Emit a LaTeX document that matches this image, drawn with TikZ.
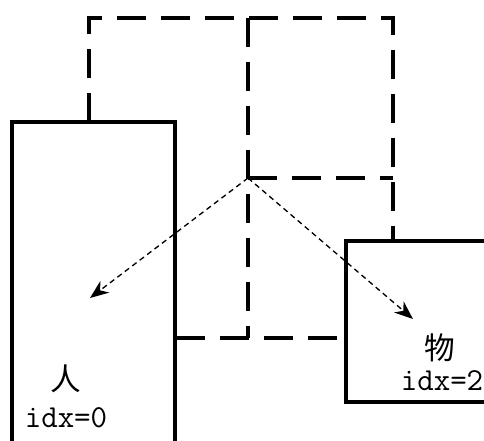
\documentclass[tikz,border=0pt]{standalone}
\usepackage{fontspec}
\newfontfamily\cjk{Noto Sans CJK SC}
\usetikzlibrary{arrows.meta}
\begin{document}
\begin{tikzpicture}[x=0.75pt,y=-0.75pt,
  solidbox/.style={line width=2.5pt},
  dashline/.style={line width=2.5pt,dash pattern=on 22pt off 11pt},
  dotarrow/.style={line width=1pt,dash pattern=on 4pt off 3pt,-{Stealth[length=14pt,width=11pt]}},
  lbl/.style={font=\ttfamily\fontsize{24}{24}\selectfont,inner sep=0pt},
  cjklbl/.style={font=\cjk\fontsize{23}{23}\selectfont,inner sep=0pt}]
\useasboundingbox (0,0) rectangle (484,440);
\begin{scope}
\clip (0,0) rectangle (484,440);
\coordinate (TL) at (89,18);
\coordinate (TM) at (248,18);
\coordinate (TR) at (393,18);
\coordinate (LB) at (89,122);
\coordinate (C) at (248,178);
\coordinate (CR) at (393,178);
\coordinate (RB) at (393,241);
\coordinate (MB) at (248,338);
\coordinate (BL) at (176,338);
\coordinate (BR) at (346,338);
\draw[solidbox] (12,460) -- (12,122) -- (175,122) -- (175,460);
\draw[solidbox] (500,241) -- (346,241) -- (346,402) -- (500,402);
\draw[dashline] (LB) -- (TL) -- (TR) -- (RB);
\draw[dashline] (TM) -- (MB);
\draw[dashline] (C) -- (CR);
\draw[dashline] (BL) -- (BR);
\end{scope}
\coordinate (A0) at (90,298);
\coordinate (A2) at (413,319);
\draw[dotarrow] (C) -- (A0);
\draw[dotarrow] (C) -- (A2);
\node[cjklbl] (n0) at (66,379) {人};
\node[lbl] (i0) at (66,418) {idx=0};
\node[cjklbl] (n2) at (440,348) {物};
\node[lbl] (i2) at (442,381) {idx=2};
\end{tikzpicture}
\end{document}
